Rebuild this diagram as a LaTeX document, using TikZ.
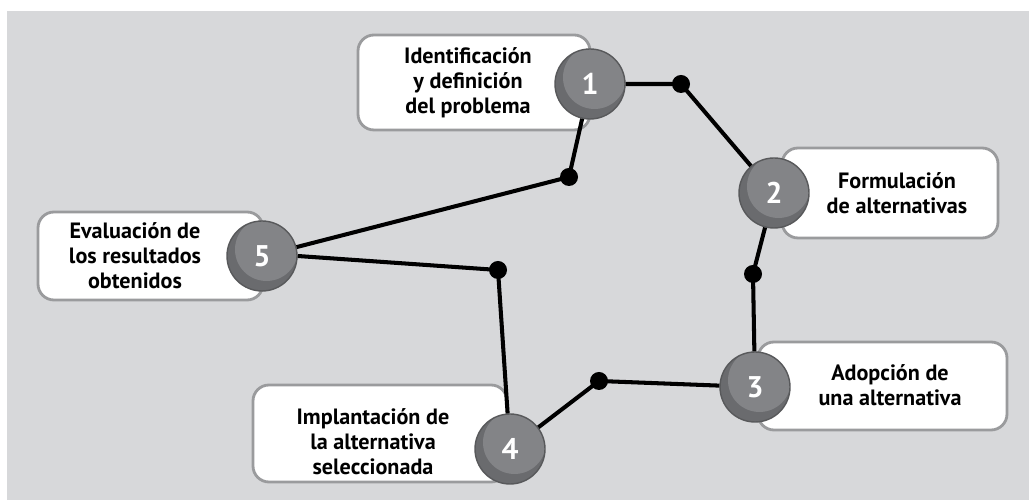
\documentclass[tikz,border=0pt]{standalone}
\usepackage{fontspec}
\setmainfont{PT Sans}
\definecolor{bggray}{HTML}{D7D8DA}
\definecolor{boxline}{HTML}{9A9B9D}
\definecolor{balldark}{HTML}{6A6B6E}
\definecolor{balllight}{HTML}{838487}
\definecolor{ballrim}{HTML}{58595B}
\tikzset{
  box/.style={draw=boxline, line width=1.6pt, fill=white, rounded corners=0.32cm},
  lbl/.style={align=center, font=\fontsize{12.6}{14.3}\selectfont\bfseries},
  ball/.style={circle, draw=ballrim, line width=0.8pt, fill=balldark, minimum size=1.4cm,
    text=white, font=\fontsize{17}{17}\selectfont\bfseries,
    path picture={\fill[balllight] ([shift={(0.09,0.13)}]path picture bounding box.center) circle (0.63);}},
  link/.style={line width=2.3pt, black}
}
\begin{document}
\begin{tikzpicture}
\useasboundingbox (0,0) rectangle (20.58,10);
\fill[bggray] (0.14,0) rectangle (20.58,9.78);

\draw[box] (7.16,7.4) rectangle (11.8,9.3);
\draw[box] (15.64,5.24) rectangle (19.96,7.04);
\draw[box] (15.16,1.4) rectangle (20.14,3.16);
\draw[box] (5.06,0.36) rectangle (10.14,2.3);
\draw[box] (0.76,4.0) rectangle (5.26,5.76);

\node[lbl] (t1) at (9.36,8.34) {Identificación\\y definición\\del problema};
\node[lbl] (t2) at (17.94,6.14) {Formulación\\de alternativas};
\node[lbl] (t3) at (17.8,2.3) {Adopción de\\una alternativa};
\node[lbl] (t4) at (7.46,1.16) {Implantación de\\la alternativa\\seleccionada};
\node[lbl] (t5) at (2.7,4.88) {Evaluación de\\los resultados\\obtenidos};

\node[ball] (n1) at (11.8,8.32) {1};
\node[ball] (n2) at (15.48,6.14) {2};
\node[ball] (n3) at (15.1,2.26) {3};
\node[ball] (n4) at (10.2,1.02) {4};
\node[ball] (n5) at (5.24,4.88) {5};

\coordinate (d12) at (13.62,8.32);
\coordinate (d23) at (15.06,4.52);
\coordinate (d34) at (11.98,2.38);
\coordinate (d45) at (9.96,4.6);
\coordinate (d51) at (11.38,6.46);

\draw[link] (n1) -- (d12) -- (n2);
\draw[link] (n2) -- (d23) -- (n3);
\draw[link] (n3) -- (d34) -- (n4);
\draw[link] (n4) -- (d45) -- (n5.east);
\draw[link] (n5) -- (d51) -- (n1);
\foreach \d in {d12,d23,d34,d45,d51}{
    \fill (\d) circle(.18);
}
\end{tikzpicture}
\end{document}
